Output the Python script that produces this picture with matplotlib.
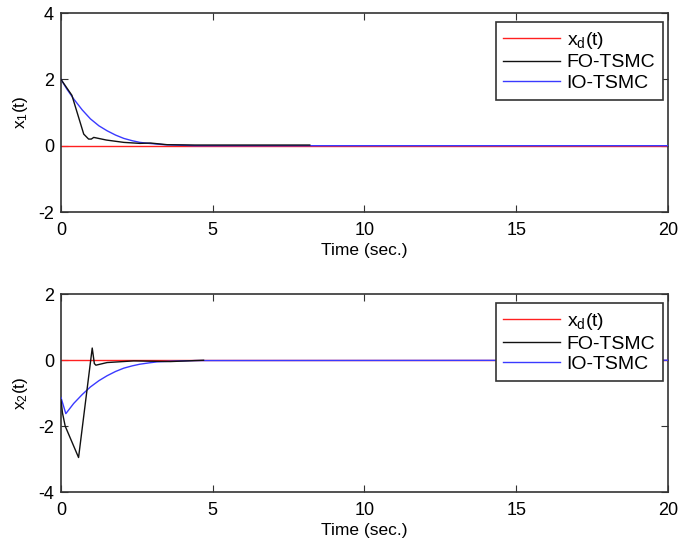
import matplotlib
matplotlib.use("Agg")
import matplotlib.pyplot as plt

plt.rcParams["font.family"] = ["Liberation Sans", "DejaVu Sans"]
plt.rcParams["mathtext.fontset"] = "custom"
plt.rcParams["mathtext.rm"] = "Liberation Sans"
plt.rcParams["mathtext.it"] = "Liberation Sans"
plt.rcParams["axes.unicode_minus"] = False

# 時間軸と目標値
t_ref = [0, 20]
xd_ref = [0, 0]

# x1(t) の応答
t1_fo = [0, 0.15, 0.36, 0.55, 0.75, 0.91, 1.0, 1.08, 1.5, 2.07, 2.6, 2.95, 3.5, 4.4, 8.2]
x1_fo = [2.0, 1.8, 1.52, 0.95, 0.35, 0.2, 0.2, 0.25, 0.17, 0.1, 0.07, 0.08, 0.03, 0.02, 0.02]
t1_io = [0, 0.2, 0.42, 0.7, 0.97, 1.25, 1.52, 1.8, 2.07, 2.35, 2.6, 2.9, 3.16, 3.4, 4.4, 20]
x1_io = [2.0, 1.7, 1.41, 1.08, 0.81, 0.6, 0.45, 0.32, 0.22, 0.15, 0.1, 0.07, 0.05, 0.03, 0.0, 0.0]

# x2(t) の応答
t2_fo = [0, 0.05, 0.14, 0.58, 1.03, 1.1, 1.15, 1.52, 2.4, 3.6, 4.7]
x2_fo = [-1.2, -1.6, -2.0, -2.95, 0.37, -0.1, -0.15, -0.07, -0.02, -0.04, 0.0]
t2_io = [0, 0.16, 0.42, 0.7, 0.97, 1.25, 1.52, 1.8, 2.07, 2.35, 2.6, 2.9, 3.16, 3.6, 4.4, 20]
x2_io = [-1.13, -1.62, -1.31, -1.04, -0.81, -0.62, -0.47, -0.34, -0.24, -0.17, -0.12, -0.08, -0.05, -0.03, -0.01, 0.0]

fig = plt.figure(figsize=(6.85, 5.45), dpi=100)
ax1 = fig.add_axes([0.089, 0.611, 0.886, 0.365])
ax2 = fig.add_axes([0.089, 0.097, 0.886, 0.363])

panels = [
    (ax1, t1_fo, x1_fo, t1_io, x1_io, (-2, 4), [-2, 0, 2, 4], "$\\mathregular{x_1(t)}$"),
    (ax2, t2_fo, x2_fo, t2_io, x2_io, (-4, 2), [-4, -2, 0, 2], "$\\mathregular{x_2(t)}$"),
]

for ax, tf, xf, ti, xi, ylim, yticks, ylabel in panels:
    ax.plot(t_ref, xd_ref, color="#ff2020", lw=1.0, label="$\\mathregular{x_d(t)}$")
    ax.plot(ti, xi, color="#3a3aff", lw=1.0, zorder=3)
    ax.plot(tf, xf, color="#111111", lw=1.0, label="FO-TSMC", zorder=4)
    ax.plot([], [], color="#3a3aff", lw=1.0, label="IO-TSMC")
    ax.set_xlim(0, 20)
    ax.set_ylim(*ylim)
    ax.set_xticks([0, 5, 10, 15, 20])
    ax.set_yticks(yticks)
    ax.tick_params(direction="in", top=True, right=True, labelsize=13, length=5, color="#333333")
    ax.tick_params(axis="x", pad=7)
    ax.tick_params(axis="y", pad=5)
    for sp in ax.spines.values():
        sp.set_color("#333333")
        sp.set_linewidth(1.2)
    ax.set_xlabel("Time (sec.)", fontsize=12.5, labelpad=3)
    ax.set_ylabel(ylabel, fontsize=12.5, labelpad=6)
    leg = ax.legend(loc="upper right", bbox_to_anchor=(0.992, 0.955), borderaxespad=0,
                    fontsize=14, fancybox=False, framealpha=1, edgecolor="#333333",
                    handlelength=2.9, handletextpad=0.35, labelspacing=0.15,
                    borderpad=0.4)
    leg.get_frame().set_linewidth(1.2)

fig.savefig("out.png", dpi=100)
plt.close(fig)
